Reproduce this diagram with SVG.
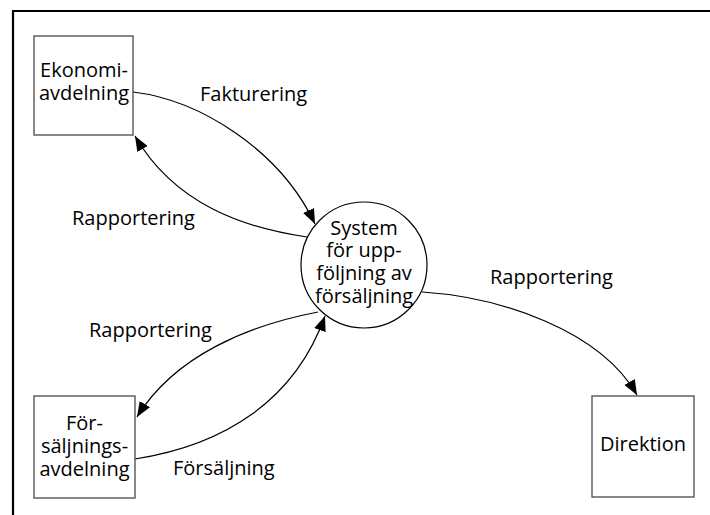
<svg xmlns="http://www.w3.org/2000/svg" width="710" height="515" viewBox="0 0 710 515">
<style>
text{font-family:"Open Sans","Noto Sans","DejaVu Sans",sans-serif;font-size:20px;fill:#000;}
.c{text-anchor:middle;}
.box{fill:#fff;stroke:#555;stroke-width:1.4;}
.conn{fill:none;stroke:#000;stroke-width:1.2;}
</style>
<defs>
<marker id="arr" markerUnits="userSpaceOnUse" markerWidth="15" markerHeight="12" refX="15" refY="6" orient="auto">
<path d="M0,0 L15,6 L0,12 z" fill="#000"/>
</marker>
</defs>
<g id="frame">
<line x1="13" y1="11" x2="710" y2="11" stroke="#000" stroke-width="2.2"/>
<line x1="13" y1="10" x2="13" y2="515" stroke="#000" stroke-width="2.2"/>
</g>
<g id="connectors">
<path class="conn" d="M133,92 C200,100 280,150 315,224" marker-end="url(#arr)"/>
<path class="conn" d="M307,237 C245,228 175,205 135,136" marker-end="url(#arr)"/>
<path class="conn" d="M318,312 C250,325 175,355 137,417" marker-end="url(#arr)"/>
<path class="conn" d="M135,459 C225,445 295,400 325,316" marker-end="url(#arr)"/>
<path class="conn" d="M422,292 C500,297 600,330 637,395" marker-end="url(#arr)"/>
</g>
<g id="labels">
<text x="200" y="101">Fakturering</text>
<text x="72" y="225">Rapportering</text>
<text x="89" y="337">Rapportering</text>
<text x="490" y="284">Rapportering</text>
<text x="173" y="475">Försäljning</text>
</g>
<g id="ekonomi">
<rect class="box" x="34" y="36" width="99" height="99"/>
<text class="c" x="84" y="77">Ekonomi-</text>
<text class="c" x="84" y="100">avdelning</text>
</g>
<g id="forsaljningsavdelning">
<rect class="box" x="34" y="396" width="101" height="102"/>
<text class="c" x="84.5" y="430">För-</text>
<text class="c" x="84.5" y="453">säljnings-</text>
<text class="c" x="84.5" y="476">avdelning</text>
</g>
<g id="direktion">
<rect class="box" x="592" y="396" width="102" height="101"/>
<text class="c" x="643" y="451">Direktion</text>
</g>
<g id="system">
<circle cx="364" cy="265" r="63" fill="#fff" stroke="#000" stroke-width="1.2"/>
<text class="c" x="364" y="235">System</text>
<text class="c" x="364" y="257">för upp-</text>
<text class="c" x="364" y="280">följning av</text>
<text class="c" x="364" y="303">försäljning</text>
</g>
</svg>
